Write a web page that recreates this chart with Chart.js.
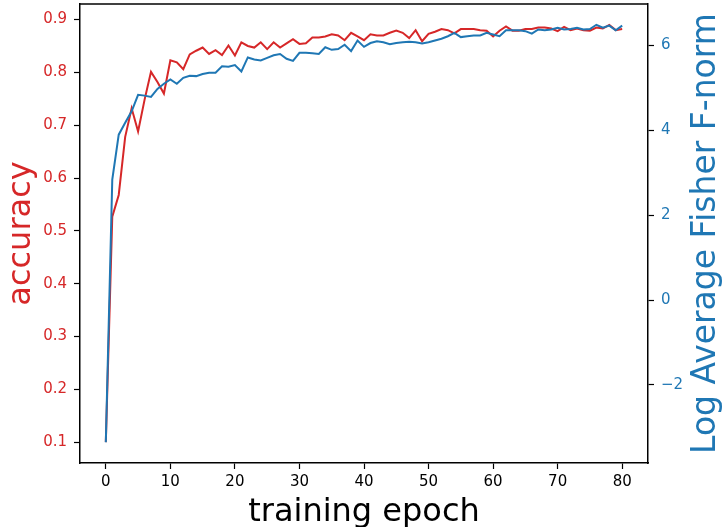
<!DOCTYPE html>
<html>
<head>
<meta charset="utf-8">
<script src="https://cdn.jsdelivr.net/npm/chart.js@4.4.0/dist/chart.umd.min.js"></script>
<style>
  html, body { margin: 0; padding: 0; background: #fff; }
  #wrap { width: 722px; height: 527px; position: relative; }
</style>
</head>
<body>
<div id="wrap"><canvas id="myChart"></canvas></div>
<script>
// data
const epochs = Array.from({ length: 81 }, (_, i) => i);
const accuracy = [
  0.100, 0.527, 0.568, 0.678, 0.732, 0.688, 0.748, 0.801, 0.782, 0.760,
  0.823, 0.819, 0.806, 0.834, 0.841, 0.847, 0.835, 0.842, 0.833, 0.851,
  0.832, 0.857, 0.850, 0.847, 0.857, 0.844, 0.857, 0.847, 0.855, 0.863,
  0.854, 0.855, 0.866, 0.866, 0.868, 0.872, 0.870, 0.861, 0.875, 0.868,
  0.861, 0.872, 0.870, 0.870, 0.875, 0.879, 0.875, 0.865, 0.880, 0.859,
  0.873, 0.877, 0.882, 0.880, 0.874, 0.882, 0.882, 0.882, 0.880, 0.879,
  0.868, 0.879, 0.887, 0.879, 0.879, 0.882, 0.882, 0.885, 0.885, 0.883,
  0.878, 0.886, 0.880, 0.883, 0.880, 0.879, 0.885, 0.883, 0.890, 0.880,
  0.882
];
const fisherNorm = [
  -3.35, 2.84, 3.90, 4.18, 4.45, 4.84, 4.82, 4.79, 4.98, 5.10,
  5.20, 5.10, 5.24, 5.29, 5.28, 5.33, 5.36, 5.36, 5.51, 5.50,
  5.54, 5.39, 5.72, 5.67, 5.65, 5.71, 5.77, 5.80, 5.69, 5.64,
  5.83, 5.83, 5.82, 5.80, 5.96, 5.90, 5.92, 6.02, 5.87, 6.12,
  5.97, 6.06, 6.10, 6.08, 6.03, 6.06, 6.08, 6.09, 6.08, 6.05,
  6.08, 6.12, 6.16, 6.22, 6.30, 6.20, 6.22, 6.24, 6.24, 6.30,
  6.26, 6.22, 6.36, 6.36, 6.36, 6.34, 6.28, 6.38, 6.36, 6.38,
  6.42, 6.38, 6.39, 6.42, 6.38, 6.39, 6.49, 6.42, 6.47, 6.36,
  6.47
];
const xTicks = [0, 10, 20, 30, 40, 50, 60, 70, 80];
const accTicks = [0.1, 0.2, 0.3, 0.4, 0.5, 0.6, 0.7, 0.8, 0.9];
const fisherTicks = [-2, 0, 2, 4, 6];

const red = '#d62728';
const blue = '#1f77b4';

Chart.defaults.font.family = '"DejaVu Sans", sans-serif';

// top spine + right-hand label (matplotlib reads it bottom to top)
const frame = {
  id: 'frame',
  afterDraw(chart) {
    const { ctx, chartArea } = chart;
    ctx.save();
    ctx.strokeStyle = '#000';
    ctx.lineWidth = 1.5;
    ctx.beginPath();
    ctx.moveTo(chartArea.left, chartArea.top);
    ctx.lineTo(chartArea.right, chartArea.top);
    ctx.stroke();
    ctx.translate(chart.width - 16, (chartArea.top + chartArea.bottom) / 2);
    ctx.rotate(-Math.PI / 2);
    ctx.font = '33px "DejaVu Sans"';
    ctx.fillStyle = blue;
    ctx.textAlign = 'center';
    ctx.textBaseline = 'middle';
    ctx.fillText('Log Average Fisher F-norm', 0, 0);
    ctx.restore();
  }
};

// fixed axis sizes, no extra room for the end labels
const fit = size => s => {
  if (s.isHorizontal()) s.height = size; else s.width = size;
  s.paddingTop = 0; s.paddingBottom = 0;
  s.paddingLeft = 0; s.paddingRight = 0;
};

const ctx = document.getElementById('myChart');

const chart = new Chart(ctx, {
  type: 'line',
  data: {
    datasets: [{
      label: 'accuracy',
      data: epochs.map((e, i) => ({ x: e, y: accuracy[i] })),
      borderColor: red,
      borderWidth: 2,
      pointRadius: 0,
      yAxisID: 'y',
      order: 1
    }, {
      label: 'Log Average Fisher F-norm',
      data: epochs.map((e, i) => ({ x: e, y: fisherNorm[i] })),
      borderColor: blue,
      borderWidth: 2,
      pointRadius: 0,
      yAxisID: 'y2',
      order: 0
    }]
  },
  options: {
    responsive: true,
    maintainAspectRatio: false,
    animation: false,
    layout: { padding: { top: 4, left: 0, right: 0, bottom: 0 } },
    plugins: { legend: { display: false }, tooltip: { enabled: false } },
    scales: {
      x: {
        type: 'linear',
        min: -4,
        max: 84,
        afterBuildTicks: s => { s.ticks = xTicks.map(v => ({ value: v })); },
        afterFit: fit(64),
        grid: { drawOnChartArea: false, tickLength: 6, tickColor: '#000', tickWidth: 1.2 },
        border: { color: '#000', width: 1.5 },
        ticks: { color: '#000', font: { size: 15 }, padding: 4, maxRotation: 0, autoSkip: false },
        title: { display: true, text: 'training epoch', color: '#000', font: { size: 32 },
                 padding: { top: 0, bottom: -5 } }
      },
      y: {
        position: 'left',
        min: 0.0605,
        max: 0.9295,
        afterBuildTicks: s => { s.ticks = accTicks.map(v => ({ value: v })); },
        afterFit: fit(80),
        grid: { drawOnChartArea: false, tickLength: 6, tickColor: '#000', tickWidth: 1.2 },
        border: { color: '#000', width: 1.5 },
        ticks: { color: red, font: { size: 15 }, padding: 7, callback: v => v.toFixed(1) },
        title: { display: true, text: 'accuracy', color: red, font: { size: 32 }, padding: { top: 2, bottom: 0 } }
      },
      y2: {
        position: 'right',
        min: -3.84,
        max: 6.98,
        afterBuildTicks: s => { s.ticks = fisherTicks.map(v => ({ value: v })); },
        afterFit: fit(74),
        grid: { drawOnChartArea: false, tickLength: 6, tickColor: '#000', tickWidth: 1.2 },
        border: { color: '#000', width: 1.5 },
        ticks: { color: blue, font: { size: 15 }, padding: 7,
                 callback: v => v < 0 ? '\u2212' + Math.abs(v) : String(v) }
      }
    }
  },
  plugins: [frame]
});
</script>
</body>
</html>
